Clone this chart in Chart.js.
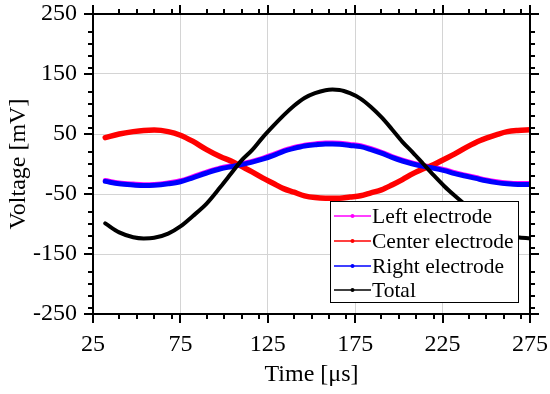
<!DOCTYPE html>
<html>
<head>
<meta charset="utf-8">
<script src="https://cdn.jsdelivr.net/npm/chart.js@4.4.0/dist/chart.umd.min.js"></script>
<style>
  body { margin: 0; background: #fff; }
</style>
</head>
<body>
<canvas id="chart" width="550" height="394"></canvas>
<script>
// values
const time = [32, 40, 48, 54, 60, 68, 75, 82, 90, 98, 104, 110, 116, 122, 128, 134, 140, 146, 152, 158,
              162, 166, 172, 178, 184, 190, 196, 202, 208, 214, 220, 226, 232, 238, 244, 250, 256, 262, 268, 275];

const leftElectrode = [-27.5, -31.5, -33.5, -34.5, -34, -31.5, -28, -21.5, -13.5, -6.5, -3, 0.5, 4.5, 9.5, 15.5, 22.5, 27.5, 31.5, 33.5, 35,
                       35, 34.5, 32.5, 30.5, 25.5, 19.5, 12.5, 6.5, 1.5, -2.5, -5.5, -9.5, -14.5, -18.5, -22.5, -26.5, -29.5, -31.5, -32.5, -32.5];
const centerElectrode = [44, 50, 54, 56, 56.5, 54, 48, 38, 24, 12, 5, -4, -13, -23, -32, -41, -47, -53, -56, -57,
                         -57, -57, -55, -53, -48, -43, -35, -26, -16, -8, -1, 8, 17, 27, 36, 43, 49, 54, 56, 57];
const rightElectrode = [-29, -33, -35, -36, -35.5, -33, -29.5, -23, -15, -8, -4.5, -1, 3, 8, 14, 21, 26, 30, 32, 33.5,
                        33.5, 33, 31, 29, 24, 18, 11, 5, 0, -4, -7, -11, -16, -20, -24, -28, -31, -33, -34, -34];
const total = [-99, -114, -122, -124, -123, -116, -104, -87, -66, -38, -16, 6, 23, 44, 63, 81, 97, 110, 118, 123,
               124, 123.5, 118, 109, 95, 78, 58, 37, 19, 0, -19, -37, -53, -68, -83, -96, -108, -117, -122, -124];

const xMinor = [40, 50, 60, 70, 90, 100, 110, 120, 140, 150, 160, 170, 190, 200, 210, 220, 240, 250, 260, 270];
const yMinor = [-240, -220, -200, -180, -140, -120, -100, -80, -40, -20, 0, 20, 60, 80, 100, 120, 160, 180, 200, 220];

const serif = "'Liberation Serif', 'Times New Roman', serif";

function pts(values) {
    return time.map((t, i) => ({ x: t, y: values[i] }));
}

// black box + outward ticks on all four sides, like the matlab figure
const framePlugin = {
    id: 'frame',
    afterDatasetsDraw(chart) {
        const { ctx, chartArea: a, scales: { x, y } } = chart;
        ctx.save();
        ctx.strokeStyle = '#000';
        ctx.lineWidth = 2;
        ctx.strokeRect(a.left, a.top, a.right - a.left, a.bottom - a.top);
        ctx.beginPath();
        const xTick = (v, len) => {
            const p = Math.round(x.getPixelForValue(v));
            ctx.moveTo(p, a.top); ctx.lineTo(p, a.top - len);
            ctx.moveTo(p, a.bottom); ctx.lineTo(p, a.bottom + len);
        };
        const yTick = (v, len) => {
            const p = Math.round(y.getPixelForValue(v));
            ctx.moveTo(a.left, p); ctx.lineTo(a.left - len, p);
            ctx.moveTo(a.right, p); ctx.lineTo(a.right + len, p);
        };
        x.ticks.forEach(t => xTick(t.value, 9));
        y.ticks.forEach(t => yTick(t.value, 9));
        xMinor.forEach(v => xTick(v, 5));
        yMinor.forEach(v => yTick(v, 5));
        ctx.stroke();
        ctx.restore();
    }
};

// legend box in the lower right corner of the axes, drawn over the curves
const boxLegend = {
    id: 'boxLegend',
    afterDatasetsDraw(chart) {
        const { ctx, chartArea: a } = chart;
        const w = 188, h = 101;
        const left = a.right - 12 - w, top = a.bottom - 12 - h;
        ctx.save();
        ctx.fillStyle = '#fff';
        ctx.fillRect(left, top, w, h);
        ctx.strokeStyle = '#000';
        ctx.lineWidth = 1;
        ctx.strokeRect(left + 0.5, top + 0.5, w, h);
        ctx.font = '21.5px ' + serif;
        ctx.textBaseline = 'middle';
        chart.data.datasets.forEach((ds, i) => {
            const yy = Math.round(top + 15 + i * 24.8);
            ctx.strokeStyle = ds.borderColor;
            ctx.lineWidth = 1.5;
            ctx.beginPath();
            ctx.moveTo(left + 4, yy);
            ctx.lineTo(left + 41, yy);
            ctx.stroke();
            ctx.fillStyle = ds.borderColor;
            ctx.beginPath();
            ctx.arc(left + 22.5, yy, 2, 0, Math.PI * 2);
            ctx.fill();
            ctx.fillStyle = '#000';
            ctx.fillText(ds.label, left + 42, yy + 1);
        });
        ctx.restore();
    }
};

new Chart(document.getElementById('chart'), {
    type: 'line',
    data: {
        datasets: [
            { label: 'Left electrode', data: pts(leftElectrode), borderColor: '#ff00ff', borderWidth: 5, order: 4 },
            { label: 'Center electrode', data: pts(centerElectrode), borderColor: '#ff0000', borderWidth: 5.5, order: 3 },
            { label: 'Right electrode', data: pts(rightElectrode), borderColor: '#0000ff', borderWidth: 5, order: 2 },
            { label: 'Total', data: pts(total), borderColor: '#000000', borderWidth: 4, order: 1 }
        ]
    },
    options: {
        responsive: false,
        animation: false,
        layout: { padding: { top: 14, right: 20, left: 0, bottom: 0 } },
        elements: {
            point: { radius: 0 },
            line: { cubicInterpolationMode: 'monotone', fill: false, borderCapStyle: 'round', borderJoinStyle: 'round' }
        },
        plugins: { legend: { display: false }, tooltip: { enabled: false } },
        scales: {
            x: {
                type: 'linear',
                min: 25, max: 275,
                ticks: { stepSize: 50, color: '#000', font: { family: serif, size: 24 }, padding: 16, maxRotation: 0 },
                grid: { color: '#d4d4d4', drawTicks: false },
                border: { display: false },
                title: { display: true, text: 'Time [μs]', color: '#000', font: { family: serif, size: 24 }, padding: { top: 0, bottom: 5 } },
                afterFit(s) { s.height = 80; s.paddingLeft = 0; s.paddingRight = 0; }
            },
            y: {
                type: 'linear',
                min: -250, max: 250,
                ticks: { stepSize: 100, color: '#000', font: { family: serif, size: 24 }, padding: 16 },
                grid: { color: '#d4d4d4', drawTicks: false },
                border: { display: false },
                title: { display: true, text: 'Voltage [mV]', color: '#000', font: { family: serif, size: 24 }, padding: { top: 4, bottom: 0 } },
                afterFit(s) { s.width = 93; s.paddingTop = 0; s.paddingBottom = 0; }
            }
        }
    },
    plugins: [framePlugin, boxLegend]
});
</script>
</body>
</html>
